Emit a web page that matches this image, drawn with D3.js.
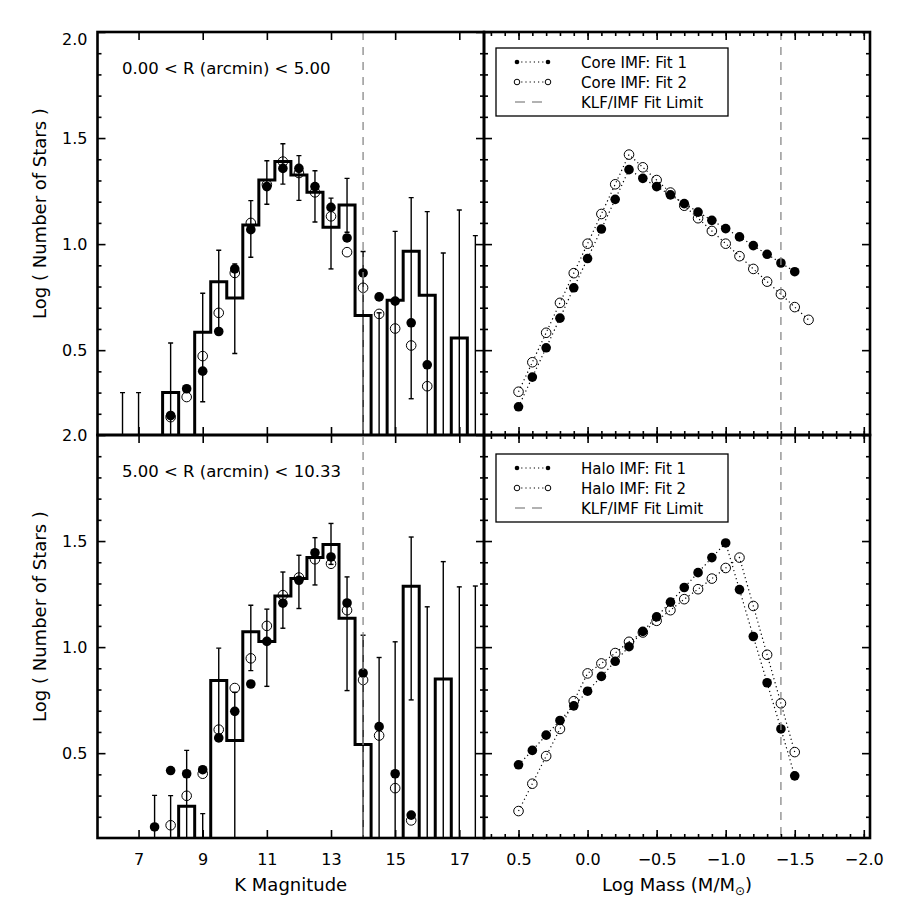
<!DOCTYPE html>
<html>
<head>
<meta charset="utf-8">
<script src="https://cdn.jsdelivr.net/npm/d3@7"></script>
<style>
  body { margin: 0; background: #fff; }
  text { font-family: "DejaVu Sans", sans-serif; fill: #000; }
</style>
</head>
<body>
<svg id="chart" width="900" height="900"></svg>
<script>
// ---- data ----
// K magnitude bins (0.5 mag wide) used by the histograms and error bars
var kBins = [6.5, 7.0, 7.5, 8.0, 8.5, 9.0, 9.5, 10.0, 10.5, 11.0, 11.5, 12.0,
             12.5, 13.0, 13.5, 14.0, 14.5, 15.0, 15.5, 16.0, 16.5, 17.0, 17.5];

// core region (0 < R < 5 arcmin): log counts, 0 = empty bin
var coreHist = [0, 0, 0, 0.30, 0, 0.585, 0.822, 0.746, 1.090, 1.302, 1.389, 1.326,
                1.244, 1.079, 1.184, 0.663, 0, 0.735, 0.966, 0.759, 0, 0.557, 0];
var coreErrHi = [0.30, 0.30, null, 0.534, null, 0.768, 0.971, 0.907, 1.205, 1.393, 1.473, 1.417,
                 1.346, 1.217, 1.310, 0.965, 0.676, 1.060, 1.219, 1.153, 0.958, 1.161, 1.040];
var coreErrLo = [0, 0, null, 0, null, 0.257, 0.600, 0.484, 0.938, 1.188, 1.283, 1.206,
                 1.104, 0.883, 1.056, 0, 0, 0, 0.271, 0, 0, 0, 0];

var coreKlfK = [8.0, 8.5, 9.0, 9.5, 10.0, 10.5, 11.0, 11.5, 12.0, 12.5, 13.0, 13.5, 14.0, 14.5, 15.0, 15.5, 16.0];
var coreKlf1 = [0.192, 0.318, 0.401, 0.588, 0.883, 1.068, 1.271, 1.357, 1.357, 1.271, 1.173, 1.029, 0.864, 0.751, 0.731, 0.629, 0.431];
var coreKlf2 = [0.184, 0.279, 0.472, 0.676, 0.864, 1.100, 1.280, 1.389, 1.335, 1.244, 1.131, 0.962, 0.794, 0.671, 0.602, 0.522, 0.330];

// halo region (5 < R < 10.33 arcmin)
var haloHist = [0, 0, 0, 0, 0.25, 0, 0.842, 0.560, 1.072, 1.027, 1.241, 1.324,
                1.422, 1.484, 1.136, 0.541, 0, 0, 1.287, 0, 0.850, 0, 0];
var haloErrHi = [null, null, 0.301, 0.300, 0.513, 0.215, 0.995, 0.787, 1.197, 1.179, 1.354, 1.433,
                 1.516, 1.583, 1.331, 1.056, 0.951, 1.025, 1.519, 1.190, 1.403, 1.284, 1.288];
var haloErrLo = [null, null, 0, 0, 0, 0, 0.580, 0, 0.889, 0.815, 1.089, 1.182,
                 1.293, 1.390, 0.795, 0, 0, 0, 0.751, 0, 0, 0, 0];

var haloKlf1K = [7.5, 8.0, 8.5, 9.0, 9.5, 10.0, 10.5, 11.0, 11.5, 12.0, 12.5, 13.0, 13.5, 14.0, 14.5, 15.0, 15.5];
var haloKlf1 = [0.152, 0.418, 0.403, 0.422, 0.572, 0.697, 0.826, 1.027, 1.207, 1.315, 1.445, 1.425, 1.208, 0.878, 0.625, 0.403, 0.208];
var haloKlf2K = [8.0, 8.5, 9.0, 9.5, 10.0, 10.5, 11.0, 11.5, 12.0, 12.5, 13.0, 13.5, 14.0, 14.5, 15.0, 15.5];
var haloKlf2 = [0.160, 0.299, 0.403, 0.611, 0.807, 0.947, 1.100, 1.245, 1.328, 1.414, 1.393, 1.174, 0.845, 0.583, 0.335, 0.183];

// IMFs, log mass
var coreMass1 = [0.5, 0.4, 0.3, 0.2, 0.1, 0.0, -0.1, -0.2, -0.3, -0.4, -0.5, -0.6, -0.7, -0.8, -0.9, -1.0, -1.1, -1.2, -1.3, -1.4, -1.5];
var coreImf1 = [0.233, 0.373, 0.511, 0.651, 0.794, 0.932, 1.071, 1.211, 1.351, 1.310, 1.271, 1.232, 1.191, 1.151, 1.112, 1.073, 1.034, 0.993, 0.952, 0.911, 0.870];
var coreMass2 = [0.5, 0.4, 0.3, 0.2, 0.1, 0.0, -0.1, -0.2, -0.3, -0.4, -0.5, -0.6, -0.7, -0.8, -0.9, -1.0, -1.1, -1.2, -1.3, -1.4, -1.5, -1.6];
var coreImf2 = [0.304, 0.443, 0.582, 0.723, 0.863, 1.002, 1.142, 1.282, 1.422, 1.362, 1.302, 1.243, 1.181, 1.122, 1.062, 1.002, 0.943, 0.883, 0.823, 0.764, 0.703, 0.643];

var haloMass = [0.5, 0.4, 0.3, 0.2, 0.1, 0.0, -0.1, -0.2, -0.3, -0.4, -0.5, -0.6, -0.7, -0.8, -0.9, -1.0, -1.1, -1.2, -1.3, -1.4, -1.5];
var haloImf1 = [0.445, 0.513, 0.585, 0.654, 0.723, 0.792, 0.862, 0.933, 1.002, 1.074, 1.143, 1.212, 1.281, 1.351, 1.422, 1.491, 1.271, 1.050, 0.832, 0.614, 0.393];
var haloImf2 = [0.227, 0.356, 0.486, 0.614, 0.745, 0.876, 0.923, 0.972, 1.025, 1.069, 1.124, 1.174, 1.226, 1.273, 1.323, 1.373, 1.422, 1.194, 0.964, 0.735, 0.505];

var kLimit = 14.0;     // KLF/IMF fit limit in K
var massLimit = -1.4;  // same limit in log mass

var kTicks = [7, 9, 11, 13, 15, 17];
var massTicks = [0.5, 0.0, -0.5, -1.0, -1.5, -2.0];
var yTicks = [2.0, 1.5, 1.0, 0.5];

// ---- layout ----
var svg = d3.select('#chart');
var xK = d3.scaleLinear().domain([5.72, 17.77]).range([97.5, 484]);
var xM = d3.scaleLinear().domain([0.75, -2.045]).range([484, 870]);
var yTop = d3.scaleLinear().domain([0.1, 2.0]).range([435, 32]);
var yBot = d3.scaleLinear().domain([0.1, 2.0]).range([838, 435]);

var clipN = 0;
function clipFor(x, y) {
  var id = 'clip' + (clipN++);
  svg.append('clipPath').attr('id', id).append('rect')
    .attr('x', x.range()[0]).attr('y', y.range()[1])
    .attr('width', x.range()[1] - x.range()[0])
    .attr('height', y.range()[0] - y.range()[1]);
  return 'url(#' + id + ')';
}

// stepped histogram + error bars + model points
function klfPanel(y, hist, errHi, errLo, k1, v1, k2, v2) {
  var g = svg.append('g').attr('clip-path', clipFor(xK, y));
  var ymin = y.domain()[0] - 0.05;

  var pts = [];
  kBins.forEach(function (k, i) {
    var v = hist[i] > 0 ? hist[i] : ymin;
    pts.push([k - 0.25, v], [k + 0.25, v]);
  });
  g.append('path')
    .attr('d', d3.line().x(function (d) { return xK(d[0]); }).y(function (d) { return y(d[1]); })(pts))
    .attr('fill', 'none').attr('stroke', '#000').attr('stroke-width', 3)
    .attr('stroke-linejoin', 'miter');

  var errs = kBins.map(function (k, i) {
    return { k: k, hi: errHi[i], lo: errLo[i] > 0 ? errLo[i] : ymin };
  }).filter(function (d) { return d.hi != null; });
  var eg = g.append('g').attr('stroke', '#000').attr('stroke-width', 1.4);
  eg.selectAll('line.bar').data(errs).enter().append('line')
    .attr('x1', function (d) { return xK(d.k); }).attr('x2', function (d) { return xK(d.k); })
    .attr('y1', function (d) { return y(d.hi); }).attr('y2', function (d) { return y(d.lo); });
  eg.selectAll('line.cap').data(errs).enter().append('line')
    .attr('x1', function (d) { return xK(d.k) - 2.5; }).attr('x2', function (d) { return xK(d.k) + 2.5; })
    .attr('y1', function (d) { return y(d.hi); }).attr('y2', function (d) { return y(d.hi); });
  eg.selectAll('line.capl').data(errs.filter(function (d) { return d.lo > ymin; })).enter().append('line')
    .attr('x1', function (d) { return xK(d.k) - 2.5; }).attr('x2', function (d) { return xK(d.k) + 2.5; })
    .attr('y1', function (d) { return y(d.lo); }).attr('y2', function (d) { return y(d.lo); });

  g.selectAll('circle.f2').data(k2).enter().append('circle')
    .attr('cx', function (d) { return xK(d); }).attr('cy', function (d, i) { return y(v2[i]); })
    .attr('r', 4.8).attr('fill', 'none').attr('stroke', '#000').attr('stroke-width', 1);
  g.selectAll('circle.f1').data(k1).enter().append('circle')
    .attr('cx', function (d) { return xK(d); }).attr('cy', function (d, i) { return y(v1[i]); })
    .attr('r', 4.8).attr('fill', '#000');
}

// dotted model lines through the IMF points
function imfPanel(y, m1, v1, m2, v2) {
  var g = svg.append('g').attr('clip-path', clipFor(xM, y));
  var line = d3.line();
  function series(ms, vs, filled) {
    var xy = ms.map(function (m, i) { return [xM(m), y(vs[i])]; });
    g.append('path').attr('d', line(xy)).attr('fill', 'none')
      .attr('stroke', '#000').attr('stroke-width', 1.2).attr('stroke-dasharray', '1.2,3');
    g.selectAll(null).data(xy).enter().append('circle')
      .attr('cx', function (d) { return d[0]; }).attr('cy', function (d) { return d[1]; })
      .attr('r', 4.8)
      .attr('fill', filled ? '#000' : 'none')
      .attr('stroke', '#000').attr('stroke-width', filled ? 0 : 1);
  }
  series(m2, v2, false);
  series(m1, v1, true);
}

function legend(top, name) {
  var g = svg.append('g');
  g.append('rect').attr('x', 496).attr('y', top + 19).attr('width', 232).attr('height', 68)
    .attr('fill', '#fff').attr('stroke', '#000').attr('stroke-width', 1.3);
  var rows = [top + 33, top + 53, top + 73];
  [0, 1].forEach(function (r) {
    g.append('line').attr('x1', 517).attr('x2', 548).attr('y1', rows[r]).attr('y2', rows[r])
      .attr('stroke', '#000').attr('stroke-width', 1.1).attr('stroke-dasharray', '1.2,3');
    [517, 548].forEach(function (cx) {
      g.append('circle').attr('cx', cx).attr('cy', rows[r]).attr('r', r === 0 ? 2.3 : 2.8)
        .attr('fill', r === 0 ? '#000' : '#fff').attr('stroke', '#000').attr('stroke-width', r === 0 ? 0 : 1);
    });
  });
  g.append('line').attr('x1', 515).attr('x2', 543).attr('y1', rows[2]).attr('y2', rows[2])
    .attr('stroke', '#999').attr('stroke-width', 1.6).attr('stroke-dasharray', '10,7');
  var labels = [name + ' IMF: Fit 1', name + ' IMF: Fit 2', 'KLF/IMF Fit Limit'];
  labels.forEach(function (t, i) {
    g.append('text').attr('x', 581).attr('y', rows[i] + 5.5).attr('font-size', 15).text(t);
  });
}

// frame with ticks on all four sides
function frame(x, y, xMajor, xMinor, xLabels, xFmt, yLabels) {
  var g = svg.append('g');
  var x0 = x.range()[0], x1 = x.range()[1], yb = y.range()[0], yt = y.range()[1];
  var yMinor = d3.range(0.2, 2.0, 0.1).map(function (v) { return +v.toFixed(1); })
    .filter(function (v) { return yTicks.indexOf(v) < 0; });
  var none = function () { return ''; };
  function put(axis, tx, ty) {
    var a = g.append('g').attr('transform', 'translate(' + tx + ',' + ty + ')').call(axis);
    a.select('.domain').remove();
    a.selectAll('line').attr('stroke-width', 1.6);
    a.selectAll('text').attr('font-size', 16).attr('font-family', '"DejaVu Sans", sans-serif').attr('fill', '#000');
    return a;
  }
  put(d3.axisBottom(x).tickValues(xMajor).tickSize(-8).tickPadding(15.6).tickFormat(xLabels ? xFmt : none), 0, yb);
  put(d3.axisTop(x).tickValues(xMajor).tickSize(-8).tickFormat(none), 0, yt);
  if (xMinor) {
    put(d3.axisBottom(x).tickValues(xMinor).tickSize(-4).tickFormat(none), 0, yb);
    put(d3.axisTop(x).tickValues(xMinor).tickSize(-4).tickFormat(none), 0, yt);
  }
  var yl = put(d3.axisLeft(y).tickValues(yTicks).tickSize(-8).tickPadding(10)
    .tickFormat(yLabels ? d3.format('.1f') : none), x0, 0);
  if (yLabels && yt < 100) {
    yl.selectAll('text').filter(function (d) { return d === 2.0; }).attr('dy', '0.75em');
  }
  put(d3.axisLeft(y).tickValues(yMinor).tickSize(-4).tickFormat(none), x0, 0);
  put(d3.axisRight(y).tickValues(yTicks).tickSize(-8).tickFormat(none), x1, 0);
  put(d3.axisRight(y).tickValues(yMinor).tickSize(-4).tickFormat(none), x1, 0);
  g.append('rect').attr('x', x0).attr('y', yt).attr('width', x1 - x0).attr('height', yb - yt)
    .attr('fill', 'none').attr('stroke', '#000').attr('stroke-width', 2.6);
}

// ---- panels ----
klfPanel(yTop, coreHist, coreErrHi, coreErrLo, coreKlfK, coreKlf1, coreKlfK, coreKlf2);
klfPanel(yBot, haloHist, haloErrHi, haloErrLo, haloKlf1K, haloKlf1, haloKlf2K, haloKlf2);
imfPanel(yTop, coreMass1, coreImf1, coreMass2, coreImf2);
imfPanel(yBot, haloMass, haloImf1, haloMass, haloImf2);

// fit limit lines
svg.append('line').attr('x1', xK(kLimit)).attr('x2', xK(kLimit)).attr('y1', yTop(2.0)).attr('y2', yBot(0.1))
  .attr('stroke', '#888').attr('stroke-width', 1.3).attr('stroke-dasharray', '8,7');
svg.append('line').attr('x1', xM(massLimit)).attr('x2', xM(massLimit)).attr('y1', yTop(2.0)).attr('y2', yBot(0.1))
  .attr('stroke', '#888').attr('stroke-width', 1.3).attr('stroke-dasharray', '8,7');

legend(yTop.range()[1] - 3, 'Core');
legend(yBot.range()[1], 'Halo');

var fmtK = d3.format('d');
var fmtM = d3.format('.1f');
frame(xK, yTop, kTicks, null, false, fmtK, true);
frame(xK, yBot, kTicks, null, true, fmtK, true);
frame(xM, yTop, massTicks, d3.range(0.7, -2.05, -0.1).map(function (v) { return +v.toFixed(1); }), false, fmtM, false);
frame(xM, yBot, massTicks, d3.range(0.7, -2.05, -0.1).map(function (v) { return +v.toFixed(1); }), true, fmtM, false);

// region labels
svg.append('text').attr('x', 122).attr('y', 74).attr('font-size', 16.5).text('0.00 < R (arcmin) < 5.00');
svg.append('text').attr('x', 122).attr('y', 477).attr('font-size', 16.5).text('5.00 < R (arcmin) < 10.33');

// axis titles
[yTop, yBot].forEach(function (y) {
  var cy = (y.range()[0] + y.range()[1]) / 2 - 20;
  svg.append('text').attr('transform', 'translate(46,' + cy + ') rotate(-90)')
    .attr('text-anchor', 'middle').attr('font-size', 18).text('Log ( Number of Stars )');
});
svg.append('text').attr('x', (xK.range()[0] + xK.range()[1]) / 2).attr('y', 891)
  .attr('text-anchor', 'middle').attr('font-size', 18).text('K Magnitude');
var mt = svg.append('text').attr('x', (xM.range()[0] + xM.range()[1]) / 2).attr('y', 891)
  .attr('text-anchor', 'middle').attr('font-size', 18);
mt.append('tspan').text('Log Mass (M/M');
mt.append('tspan').attr('font-size', 12).attr('dy', 4).text('\u2299');
mt.append('tspan').attr('dy', -4).text(')');
</script>
</body>
</html>
